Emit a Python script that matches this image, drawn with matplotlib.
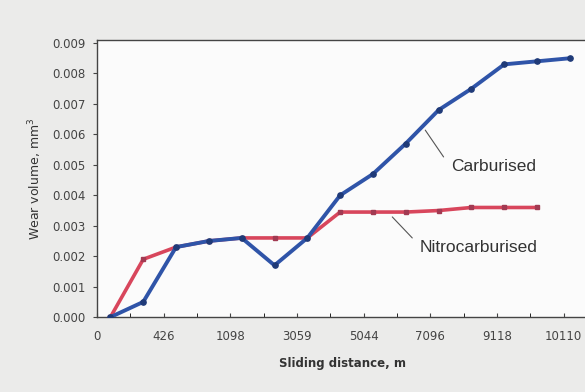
import matplotlib.pyplot as plt
import numpy as np

carburised = [0.0000, 0.0005, 0.0023, 0.0025, 0.0026, 0.0017, 0.0026, 0.0040,
              0.0047, 0.0057, 0.0068, 0.0075, 0.0083, 0.0084, 0.0085]
nitrocarburised = [0.0000, 0.0019, 0.0023, 0.0025, 0.0026, 0.0026, 0.0026, 0.00345,
                   0.00345, 0.00345, 0.0035, 0.0036, 0.0036, 0.0036]
tick_labels = ["0", "426", "1098", "3059", "5044", "7096", "9118", "10110"]
y_ticks = [0.000, 0.001, 0.002, 0.003, 0.004, 0.005, 0.006, 0.007, 0.008, 0.009]

plt.rcParams['font.family'] = ['DejaVu Sans']

fig = plt.figure(figsize=(5.85, 3.92), dpi=100, facecolor='#ebebea')
ax = fig.add_axes([0.166, 0.191, 0.84, 0.707])
ax.set_facecolor('#fbfbfb')

# measurement points sit slightly right of the labelled ticks
x_c = np.arange(len(carburised)) * 0.985 + 0.4
x_n = np.arange(len(nitrocarburised)) * 0.985 + 0.4

ax.plot(x_n, nitrocarburised, color='#d8465c', lw=2.6, marker='s', ms=3.5,
        mfc='#a23a52', mec='#a23a52', zorder=3)
ax.plot(x_c, carburised, color='#2f54a8', lw=2.8, marker='o', ms=3.8,
        mfc='#1f3a78', mec='#1f3a78', zorder=4)

# line labels with leader lines
lead = dict(arrowstyle='-', color='#555555', lw=0.8, shrinkA=0, shrinkB=0)
ax.annotate("", xy=(9.85, 0.00614), xytext=(10.4, 0.00526), arrowprops=lead)
ax.annotate("", xy=(8.86, 0.00329), xytext=(9.46, 0.00260), arrowprops=lead)
ax.text(11.9, 0.00493, "Carburised", fontsize=12.5, color='#333333',
        ha='center', va='center', family='Liberation Sans')
ax.text(11.45, 0.00227, "Nitrocarburised", fontsize=12.5, color='#333333',
        ha='center', va='center', family='Liberation Sans')

ax.set_xlim(0, 14.75)
ax.set_ylim(0, 0.0091)
ax.set_xticks(np.arange(0, 15, 2))
ax.set_xticklabels(tick_labels)
ax.set_xticks(np.arange(0, 15, 1), minor=True)
ax.set_yticks(y_ticks)
ax.set_yticklabels(["%.3f" % v for v in y_ticks])

ax.tick_params(axis='both', labelsize=8.5, colors='#444444', length=3, width=0.8)
ax.tick_params(axis='x', which='both', direction='in', pad=9)
ax.tick_params(axis='x', which='minor', length=3)
ax.tick_params(axis='y', direction='out', pad=5)

for side in ['left', 'bottom', 'top']:
    ax.spines[side].set_color('#444444')
    ax.spines[side].set_linewidth(1.0)
ax.spines['right'].set_visible(False)

ax.set_xlabel("Sliding distance, m", fontsize=8.5, fontweight='bold',
              color='#333333', labelpad=10)
ax.set_ylabel("Wear volume, mm$^3$", fontsize=9, color='#333333', labelpad=6)

fig.savefig("out.png", dpi=100, facecolor=fig.get_facecolor())
